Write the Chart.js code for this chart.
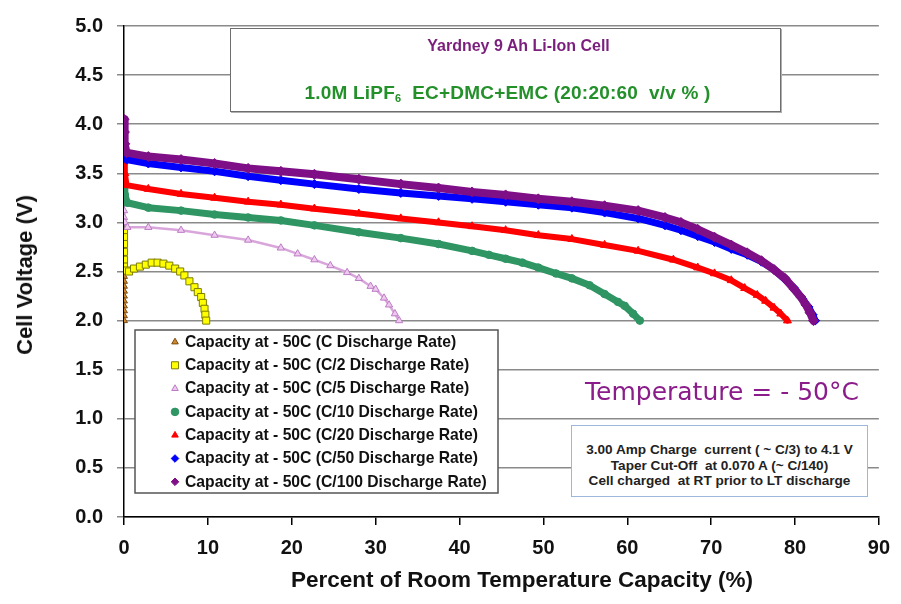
<!DOCTYPE html>
<html>
<head>
<meta charset="utf-8">
<script src="https://cdn.jsdelivr.net/npm/chart.js@4.4.1/dist/chart.umd.min.js"></script>
<style>
  html, body { margin: 0; padding: 0; background: #fff; }
  #wrap { position: relative; width: 901px; height: 604px; font-family: "Liberation Sans", Arial, sans-serif; }
  #c { position: absolute; left: 0; top: 0; }
  .abs { position: absolute; }
  #titleBox { left: 230px; top: 28px; width: 551px; height: 84px; box-sizing: border-box;
    border: 1.5px solid #6e6e6e; background: #fff; box-shadow: 1px 1px 0 #b0b0b0; }
  #t1 { left: 230px; width: 551px; top: 36px; text-align: center; padding-left: 26px; box-sizing: border-box;
    font-weight: bold; font-size: 16px; line-height: 20px; color: #7b1f7d; }
  #t2 { left: 230px; width: 551px; top: 81px; text-align: center; padding-left: 4px; box-sizing: border-box;
    font-weight: bold; font-size: 19px; letter-spacing: 0.2px; line-height: 24px; color: #23902a; white-space: nowrap; }
  #t2 sub { font-size: 11px; vertical-align: -3px; }
  #temp { left: 585px; top: 376px; font-family: "DejaVu Sans", sans-serif; font-size: 25px; line-height: 32px;
    color: #8a1d8a; white-space: nowrap; }
  #noteBox { left: 571px; top: 425px; width: 297px; height: 72px; box-sizing: border-box;
    border: 1.5px solid #9db8db; background: #fff; padding-top: 16px; text-align: center;
    font-weight: bold; font-size: 13.6px; line-height: 15.5px; color: #222; white-space: nowrap; }
  #xTitle { left: 124px; width: 796px; top: 566px; text-align: center; font-weight: bold; font-size: 22.5px;
    line-height: 28px; color: #111; white-space: nowrap; }
  #yTitle { left: 25px; top: 275px; transform: translate(-50%, -50%) rotate(-90deg); font-weight: bold;
    font-size: 22px; line-height: 26px; color: #111; white-space: nowrap; }
</style>
</head>
<body>
<div id="wrap">
  <canvas id="c" width="901" height="604"></canvas>
  <div id="titleBox" class="abs"></div>
  <div id="t1" class="abs">Yardney 9 Ah Li-Ion Cell</div>
  <div id="t2" class="abs">1.0M LiPF<sub>6</sub>&nbsp; EC+DMC+EMC (20:20:60&nbsp; v/v % )</div>
  <div id="temp" class="abs">Temperature = - 50°C</div>
  <div id="noteBox" class="abs">3.00 Amp Charge&nbsp; current ( ~ C/3) to 4.1 V<br>Taper Cut-Off&nbsp; at 0.070 A (~ C/140)<br>Cell charged&nbsp; at RT prior to LT discharge</div>
  <div id="xTitle" class="abs">Percent of Room Temperature Capacity (%)</div>
  <div id="yTitle" class="abs">Cell Voltage (V)</div>
</div>
<script>
// ---- Data: capacity (%) and cell voltage (V) ----
const seriesLabels = [
  "Capacity at - 50C (C Discharge Rate)",
  "Capacity at - 50C (C/2 Discharge Rate)",
  "Capacity at - 50C (C/5 Discharge Rate)",
  "Capacity at - 50C (C/10 Discharge Rate)",
  "Capacity at - 50C (C/20 Discharge Rate)",
  "Capacity at - 50C (C/50 Discharge Rate)",
  "Capacity at - 50C (C/100 Discharge Rate)"
];

const capC   = [0, 0, 0, 0, 0, 0, 0, 0, 0, 0, 0];
const voltC  = [2.50, 2.45, 2.40, 2.35, 2.30, 2.25, 2.20, 2.15, 2.10, 2.05, 2.00];

const capC2  = [0, 0, 0, 0, 0, 0, 0.3, 0.6, 1.2, 1.9, 2.6, 3.3, 4.0, 4.7, 5.4, 6.1, 6.7, 7.2, 7.8, 8.4, 8.8, 9.2, 9.4, 9.6, 9.7, 9.8];
const voltC2 = [2.91, 2.85, 2.78, 2.70, 2.62, 2.55, 2.51, 2.50, 2.53, 2.55, 2.57, 2.59, 2.59, 2.58, 2.56, 2.53, 2.50, 2.46, 2.40, 2.34, 2.29, 2.24, 2.18, 2.12, 2.06, 2.00];

const capC5  = [0, 0, 0.1, 0.4, 2.9, 6.8, 10.8, 14.8, 18.7, 20.7, 22.7, 24.6, 26.6, 28.0, 29.4, 30.0, 31.0, 31.6, 32.3, 32.8];
const voltC5 = [3.12, 3.05, 3.00, 2.95, 2.95, 2.92, 2.87, 2.82, 2.74, 2.68, 2.62, 2.56, 2.49, 2.43, 2.35, 2.32, 2.23, 2.16, 2.07, 2.00];

const capC10  = [0, 0.1, 0.4, 2.9, 6.8, 10.8, 14.8, 18.7, 22.7, 28.0, 33.0, 37.5, 41.5, 43.5, 45.5, 47.5, 49.4, 51.5, 53.4, 55.5, 57.3, 58.9, 59.7, 60.7, 61.5];
const voltC10 = [3.37, 3.28, 3.20, 3.15, 3.12, 3.08, 3.05, 3.02, 2.97, 2.90, 2.84, 2.78, 2.71, 2.67, 2.63, 2.59, 2.54, 2.48, 2.43, 2.36, 2.27, 2.19, 2.15, 2.07, 2.00];

const capC20  = [0, 0.1, 0.3, 2.9, 6.8, 10.8, 14.8, 18.7, 22.7, 28.0, 33.0, 37.5, 41.5, 45.5, 49.4, 53.4, 57.3, 61.3, 65.5, 68.4, 70.4, 72.4, 74.0, 75.5, 76.5, 77.5, 78.3, 79.1];
const voltC20 = [3.62, 3.50, 3.38, 3.34, 3.29, 3.25, 3.21, 3.18, 3.14, 3.09, 3.04, 3.00, 2.96, 2.92, 2.87, 2.83, 2.77, 2.71, 2.62, 2.54, 2.48, 2.41, 2.33, 2.26, 2.20, 2.13, 2.07, 2.00];

const capC50  = [0, 0.3, 2.9, 6.8, 10.8, 14.8, 18.7, 22.7, 28.0, 33.0, 37.5, 41.5, 45.5, 49.4, 53.4, 57.3, 61.3, 64.5, 66.4, 68.4, 70.4, 72.4, 74.3, 76.0, 77.5, 78.8, 79.9, 80.9, 81.6, 82.1, 82.4];
const voltC50 = [3.66, 3.64, 3.60, 3.56, 3.52, 3.47, 3.43, 3.39, 3.34, 3.30, 3.27, 3.24, 3.21, 3.18, 3.15, 3.10, 3.04, 2.97, 2.92, 2.86, 2.80, 2.73, 2.67, 2.60, 2.52, 2.42, 2.33, 2.22, 2.14, 2.06, 2.00];

const capC100  = [0, 0.05, 0.1, 0.3, 2.9, 6.8, 10.8, 14.8, 18.7, 22.7, 28.0, 33.0, 37.5, 41.5, 45.5, 49.4, 53.4, 57.3, 61.3, 64.5, 66.4, 68.4, 70.4, 72.4, 74.3, 76.0, 77.5, 78.8, 79.9, 80.7, 81.3, 81.8, 82.2];
const voltC100 = [4.05, 3.92, 3.80, 3.71, 3.67, 3.64, 3.60, 3.55, 3.52, 3.49, 3.44, 3.39, 3.35, 3.31, 3.28, 3.24, 3.21, 3.17, 3.12, 3.05, 3.00, 2.93, 2.85, 2.77, 2.69, 2.61, 2.52, 2.43, 2.32, 2.24, 2.16, 2.08, 2.00];

const xTicksMin = 0, xTicksMax = 90, xTickStep = 10;
const yTicksMin = 0, yTicksMax = 5, yTickStep = 0.5;

// ---- Build datasets ----
function pts(xs, ys) { return xs.map((x, i) => ({ x: x, y: ys[i] })); }

const styles = [
  { style: 'triangle', r: 4,   fill: '#d08a2c', stroke: '#7a4a12', line: false, lw: 0 },
  { style: 'rect',     r: 5,   fill: '#ffff00', stroke: '#7d7d00', line: false, lw: 0 },
  { style: 'triangle', r: 4.2, fill: '#efc8ef', stroke: '#bb7cc3', line: true,  lw: 2.5, lc: '#d9a6dc' },
  { style: 'circle',   r: 3.8, fill: '#2e9563', stroke: '#2e9563', line: true,  lw: 7, lc: '#2e9563' },
  { style: 'triangle', r: 4.6, fill: '#ff0000', stroke: '#ff0000', line: true,  lw: 6, lc: '#ff0000' },
  { style: 'rectRot',  r: 4.5, fill: '#0000ff', stroke: '#0000ff', line: true,  lw: 7, lc: '#0000ff' },
  { style: 'rectRot',  r: 5,   fill: '#7f0f86', stroke: '#7f0f86', line: true,  lw: 8, lc: '#7f0f86' }
];
const series = [
  pts(capC, voltC), pts(capC2, voltC2), pts(capC5, voltC5), pts(capC10, voltC10),
  pts(capC20, voltC20), pts(capC50, voltC50), pts(capC100, voltC100)
];

const datasets = series.map((d, i) => {
  const s = styles[i];
  return {
    label: seriesLabels[i],
    data: d,
    showLine: s.line,
    borderColor: s.lc || s.stroke,
    borderWidth: s.lw,
    borderJoinStyle: 'round',
    borderCapStyle: 'round',
    pointStyle: s.style,
    pointRadius: s.r,
    pointBackgroundColor: s.fill,
    pointBorderColor: s.stroke,
    pointBorderWidth: 1,
    order: seriesLabels.length - i,
    tension: 0
  };
});

// ---- Legend drawn inside the plot, from the datasets ----
const boxLegend = {
  id: 'boxLegend',
  afterDraw(chart) {
    const ctx = chart.ctx;
    ctx.save();
    ctx.fillStyle = '#fff';
    ctx.strokeStyle = '#555';
    ctx.lineWidth = 1.5;
    ctx.fillRect(135, 330, 363, 163);
    ctx.strokeRect(135, 330, 363, 163);
    ctx.font = 'bold 15.7px "Liberation Sans", Arial, sans-serif';
    ctx.textBaseline = 'middle';
    ctx.textAlign = 'left';
    chart.data.datasets.forEach((ds, i) => {
      const y = 342 + i * 23.3;
      ctx.fillStyle = ds.pointBackgroundColor;
      ctx.strokeStyle = ds.pointBorderColor;
      ctx.lineWidth = 1;
      Chart.helpers.drawPoint(ctx, { pointStyle: ds.pointStyle, radius: ds.pointStyle === 'rect' ? 5 : 3.8, borderWidth: 1, rotation: 0 }, 175, y);
      ctx.fillStyle = '#111';
      ctx.fillText(ds.label, 185, y + 0.5);
    });
    ctx.restore();
  }
};

new Chart(document.getElementById('c'), {
  type: 'scatter',
  data: { datasets: datasets },
  plugins: [boxLegend],
  options: {
    responsive: false,
    maintainAspectRatio: false,
    animation: false,
    layout: { padding: { top: 16, right: 19, left: 0, bottom: 0 } },
    plugins: { legend: { display: false }, tooltip: { enabled: false } },
    scales: {
      x: {
        type: 'linear',
        min: xTicksMin, max: xTicksMax,
        afterFit(scale) { scale.height = 87; },
        ticks: { stepSize: xTickStep, color: '#111', padding: 11,
          font: { family: '"Liberation Sans", Arial, sans-serif', size: 20, weight: 'bold' } },
        grid: { drawOnChartArea: false, drawTicks: true, tickLength: 8, color: '#000', lineWidth: 1.5 },
        border: { display: true, color: '#000', width: 1.5 }
      },
      y: {
        min: yTicksMin, max: yTicksMax,
        afterFit(scale) { scale.width = 124; },
        ticks: { stepSize: yTickStep, color: '#111', padding: 14,
          callback: (v) => Number(v).toFixed(1),
          font: { family: '"Liberation Sans", Arial, sans-serif', size: 20, weight: 'bold' } },
        grid: { color: '#8a8a8a', lineWidth: 1.5, tickLength: 7, drawTicks: true },
        border: { display: true, color: '#000', width: 1.5 },
        title: { display: false }
      }
    }
  }
});
</script>
</body>
</html>
